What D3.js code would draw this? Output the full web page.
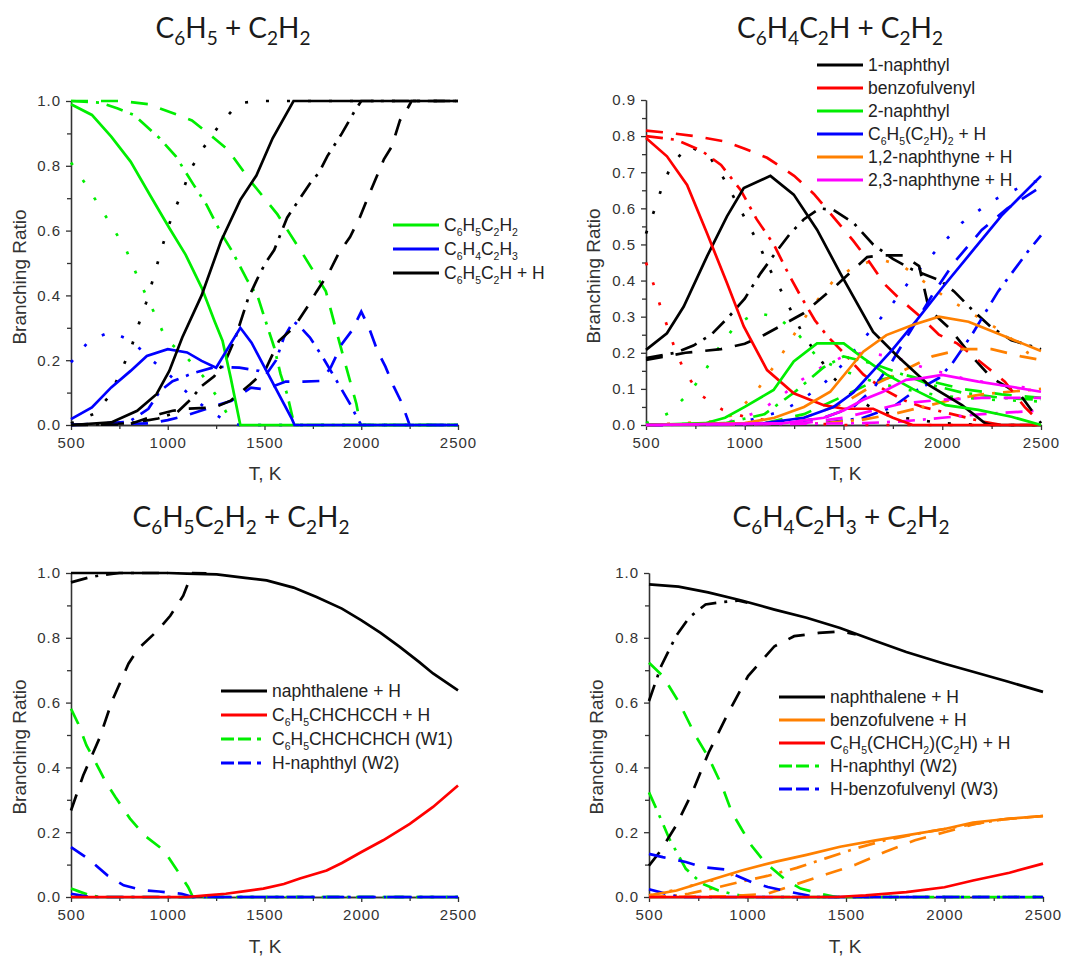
<!DOCTYPE html>
<html>
<head>
<meta charset="utf-8">
<script src="https://cdn.jsdelivr.net/npm/d3@7"></script>
<style>
  body { margin: 0; background: #fff; }
  svg { display: block; }
  .axis path, .axis line { stroke: #333; stroke-width: 1.3; }
  .axis text { font-family: "Liberation Sans", Arial, sans-serif; font-size: 15px; fill: #333; letter-spacing: 1px; }
  .axis-title { font-family: "Liberation Sans", Arial, sans-serif; font-size: 19px; fill: #333; }
  .panel-title { font-family: Lato, "Open Sans", sans-serif; font-size: 28px; fill: #1a1a1a; }
  .legend text { font-family: "Liberation Sans", Arial, sans-serif; font-size: 17.5px; fill: #222; }
</style>
</head>
<body>
<svg id="chart" width="1071" height="956"></svg>
<script>
// ---- data: [T (K), branching ratio] per pressure set (p1..p4) ----

// C6H5 + C2H2
const aC6H5C2H2 = {
  p1: [[500,.99],[608,.957],[708,.89],[808,.813],[908,.71],[1008,.608],[1092,.526],[1175,.424],[1242,.32],[1283,.26],[1325,.147],[1375,0],[2500,0]],
  p2: [[500,.81],[575,.744],[650,.673],[720,.605],[787,.538],[837,.467],[888,.40],[942,.331],[992,.263],[1092,.213],[1183,.15],[1263,.08],[1340,0],[2500,0]],
  p3: [[500,1.0],[650,.995],[742,.977],[825,.957],[958,.885],[1042,.829],[1133,.742],[1200,.68],[1275,.593],[1333,.536],[1408,.45],[1467,.393],[1517,.30],[1550,.24],[1583,.157],[1617,.095],[1650,.01],[1660,0],[2500,0]],
  p4: [[500,1.0],[760,1.0],[900,.99],[1060,.955],[1125,.94],[1240,.885],[1310,.85],[1425,.755],[1567,.65],[1700,.526],[1817,.413],[1867,.30],[1917,.19],[1975,.065],[1995,0],[2500,0]]
};
const aC6H4C2H3 = {
  p1: [[500,.018],[608,.054],[708,.116],[808,.167],[892,.213],[1000,.234],[1100,.224],[1175,.198],[1250,.177],[1375,.30],[1433,.254],[1642,.018],[1655,0],[2500,0]],
  p2: [[500,.193],[592,.259],[705,.288],[813,.259],[922,.198],[1000,.16],[1100,.10],[1200,.05],[1280,.02],[1370,0],[2500,0]],
  p3: [[500,0],[800,.01],[900,.05],[960,.105],[1025,.135],[1130,.16],[1250,.18],[1370,.177],[1470,.167],[1510,.157],[1560,.20],[1600,.27],[1650,.32],[1680,.305],[1735,.27],[1800,.21],[1883,.126],[1942,.065],[1985,.015],[2000,0],[2500,0]],
  p4: [[500,0],[900,.005],[1000,.015],[1100,.03],[1250,.06],[1330,.075],[1430,.115],[1500,.11],[1610,.134],[1700,.134],[1792,.136],[1842,.177],[1900,.25],[1950,.29],[2000,.35],[2040,.30],[2083,.23],[2125,.18],[2167,.12],[2208,.07],[2250,0],[2500,0]]
};
const aC6H5C2H = {
  p1: [[500,0],[708,.008],[842,.044],[942,.095],[1008,.167],[1075,.27],[1175,.40],[1275,.567],[1375,.695],[1458,.77],[1542,.885],[1650,1.0],[2500,1.0]],
  p2: [[500,.005],[617,.034],[700,.09],[763,.172],[813,.242],[850,.311],[888,.377],[922,.446],[955,.516],[988,.583],[1025,.651],[1075,.718],[1117,.788],[1183,.854],[1267,.926],[1367,.993],[1467,1.0],[2500,1.0]],
  p3: [[500,0],[800,.005],[950,.02],[1050,.04],[1120,.08],[1175,.12],[1240,.15],[1300,.20],[1350,.27],[1415,.39],[1470,.46],[1505,.50],[1550,.54],[1617,.64],[1667,.685],[1740,.75],[1783,.78],[1825,.83],[1900,.90],[1967,.97],[2000,1.0],[2500,1.0]],
  p4: [[500,0],[800,.002],[960,.034],[1025,.044],[1100,.05],[1242,.054],[1325,.075],[1425,.125],[1500,.165],[1575,.26],[1650,.30],[1717,.36],[1767,.41],[1833,.47],[1883,.53],[1942,.58],[1992,.64],[2033,.70],[2075,.76],[2117,.82],[2158,.86],[2200,.94],[2242,.98],[2260,1.0],[2500,1.0]]
};

// C6H4C2H + C2H2
const bNaphthyl1 = {
  p1: [[500,.208],[606,.254],[691,.328],[809,.467],[910,.578],[995,.656],[1130,.69],[1248,.638],[1366,.541],[1484,.42],[1650,.258],[1767,.194],[1933,.11],[2100,.055],[2217,.005],[2250,0],[2500,0]],
  p2: [[500,.53],[543,.596],[580,.657],[627,.718],[713,.774],[822,.743],[893,.683],[955,.62],[1013,.56],[1072,.50],[1122,.436],[1180,.376],[1235,.316],[1292,.254],[1372,.19],[1450,.13],[1550,.08],[1650,.045],[1800,.02],[2000,.005],[2200,0],[2500,0]],
  p3: [[500,.185],[650,.20],[740,.22],[830,.25],[920,.30],[1000,.35],[1080,.42],[1160,.48],[1230,.53],[1300,.57],[1380,.60],[1450,.595],[1550,.56],[1650,.50],[1750,.46],[1850,.43],[1990,.40],[2060,.37],[2150,.32],[2250,.27],[2350,.235],[2430,.222],[2500,.21]],
  p4: [[500,.18],[700,.20],[880,.21],[1000,.225],[1100,.25],[1300,.31],[1470,.39],[1620,.465],[1690,.47],[1800,.47],[1883,.44],[1933,.32],[2033,.27],[2150,.19],[2250,.13],[2330,.105],[2400,.08],[2500,.005]]
};
const bBenzofulvenyl = {
  p1: [[500,.795],[606,.744],[708,.665],[809,.531],[910,.393],[995,.273],[1113,.152],[1248,.088],[1400,.055],[1500,.045],[1650,.045],[1750,.02],[1850,0],[2500,0]],
  p2: [[500,.45],[538,.39],[572,.33],[647,.21],[697,.146],[777,.083],[888,.042],[997,.023],[1150,.01],[1300,.005],[1500,0],[2500,0]],
  p3: [[500,.80],[650,.79],[780,.76],[880,.72],[980,.65],[1060,.57],[1147,.50],[1220,.42],[1280,.36],[1355,.29],[1420,.245],[1500,.20],[1600,.14],[1700,.10],[1800,.07],[1900,.05],[2050,.03],[2200,.01],[2300,0],[2500,0]],
  p4: [[500,.815],[600,.81],[750,.80],[900,.785],[1000,.765],[1113,.74],[1250,.69],[1350,.64],[1450,.575],[1550,.51],[1633,.45],[1708,.39],[1783,.35],[1900,.295],[1983,.25],[2075,.226],[2150,.194],[2233,.157],[2317,.12],[2417,.05],[2500,.005]]
};
const bNaphthyl2 = {
  p1: [[500,0],[800,.005],[900,.02],[1000,.05],[1146,.097],[1248,.176],[1366,.226],[1501,.226],[1600,.185],[1717,.14],[1850,.10],[2017,.055],[2183,.042],[2350,.023],[2500,0]],
  p2: [[500,.005],[613,.032],[722,.09],[797,.148],[863,.21],[955,.277],[1055,.31],[1163,.30],[1272,.25],[1372,.185],[1500,.15],[1650,.12],[1800,.10],[2000,.08],[2250,.07],[2500,.065]],
  p3: [[500,0],[900,.005],[1100,.03],[1250,.09],[1400,.16],[1500,.19],[1650,.17],[1800,.14],[1950,.11],[2100,.09],[2300,.075],[2500,.07]],
  p4: [[500,0],[1100,.005],[1300,.03],[1500,.08],[1650,.12],[1800,.14],[1950,.12],[2100,.10],[2300,.085],[2500,.075]]
};
const bC6H5C2H2 = {
  p1: [[500,0],[1100,.005],[1300,.02],[1450,.05],[1550,.09],[1650,.15],[1750,.21],[1870,.29],[2000,.38],[2150,.48],[2300,.58],[2500,.69]],
  p2: [[500,0],[1000,.01],[1180,.037],[1280,.066],[1397,.113],[1500,.17],[1620,.25],[1740,.33],[1850,.41],[1980,.49],[2100,.56],[2250,.62],[2400,.66],[2500,.68]],
  p3: [[500,0],[1400,.005],[1600,.02],[1750,.05],[1850,.09],[1983,.13],[2050,.17],[2150,.25],[2283,.37],[2433,.48],[2500,.525]],
  p4: [[500,0],[1200,.005],[1400,.02],[1550,.05],[1650,.10],[1750,.18],[1850,.27],[1950,.36],[2060,.45],[2200,.54],[2330,.60],[2500,.66]]
};
const bNaphthyne12 = {
  p1: [[500,0],[1000,.005],[1150,.02],[1300,.05],[1433,.092],[1600,.203],[1717,.249],[1850,.277],[1983,.30],[2133,.286],[2300,.249],[2500,.205]],
  p2: [[500,0],[850,.01],[950,.03],[1055,.09],[1170,.18],[1280,.277],[1350,.334],[1450,.40],[1560,.44],[1680,.46],[1800,.44],[1900,.40],[2000,.36],[2117,.32],[2317,.254],[2433,.20],[2500,.18]],
  p3: [[500,0],[1400,.005],[1600,.015],[1750,.03],[1900,.05],[2050,.07],[2200,.085],[2500,.10]],
  p4: [[500,0],[1100,.005],[1300,.02],[1500,.06],[1650,.11],[1800,.15],[1950,.19],[2100,.21],[2250,.21],[2400,.19],[2500,.18]]
};
const bNaphthyne23 = {
  p1: [[500,0],[1200,.005],[1400,.02],[1500,.04],[1600,.07],[1700,.092],[1817,.125],[1900,.13],[2000,.139],[2183,.12],[2350,.106],[2500,.092]],
  p2: [[500,0],[900,.005],[1072,.037],[1180,.078],[1288,.125],[1388,.16],[1500,.19],[1600,.20],[1750,.19],[1900,.16],[2100,.13],[2300,.11],[2500,.10]],
  p3: [[500,0],[1600,.005],[1800,.01],[2000,.02],[2200,.03],[2500,.04]],
  p4: [[500,0],[1300,.005],[1500,.02],[1650,.04],[1800,.06],[2000,.07],[2200,.075],[2500,.075]]
};

// C6H5C2H2 + C2H2
const cNaphthalene = {
  p1: [[500,1.0],[1000,1.0],[1100,.998],[1253,.996],[1400,.985],[1511,.977],[1650,.955],[1769,.926],[1900,.89],[2001,.854],[2100,.815],[2199,.772],[2300,.725],[2371,.69],[2500,.638]],
  p3: [[500,.971],[597,.987],[663,.994],[750,1.0],[1000,1.0]],
  p4: [[500,.267],[563,.375],[647,.49],[713,.606],[797,.72],[847,.766],[947,.822],[1013,.868],[1080,.93],[1113,.98],[1130,1.0],[1200,.999]]
};
const cC6H5CHCHCCH = {
  p1: [[500,0],[1100,0],[1200,.005],[1300,.01],[1400,.018],[1494,.026],[1600,.04],[1683,.057],[1821,.082],[1900,.105],[2001,.139],[2113,.175],[2251,.226],[2371,.278],[2500,.344]]
};
const cW1 = {
  p3: [[500,.026],[597,.005],[650,0],[2500,0]],
  p4: [[500,.581],[538,.534],[580,.468],[622,.421],[680,.355],[730,.308],[805,.242],[880,.19],[980,.144],[1038,.092],[1105,.031],[1130,0],[2500,0]]
};
const cW2 = {
  p3: [[500,.01],[600,0],[2500,0]],
  p4: [[500,.154],[588,.118],[688,.067],[772,.036],[872,.021],[955,.017],[1072,.01],[1130,0],[2500,0]]
};

// C6H4C2H3 + C2H2
const dNaphthalene = {
  p1: [[500,.965],[650,.958],[800,.94],[970,.915],[1137,.887],[1300,.862],[1470,.83],[1650,.79],[1806,.756],[2000,.72],[2145,.695],[2320,.665],[2500,.633]],
  p3: [[500,.605],[562,.713],[637,.805],[703,.862],[787,.903],[870,.91],[950,.915],[1000,.908]],
  p4: [[500,.097],[553,.138],[637,.22],[720,.323],[803,.446],[903,.569],[1003,.682],[1137,.774],[1237,.805],[1362,.815],[1480,.82],[1550,.81]]
};
const dBenzofulvene = {
  p1: [[500,.005],[640,.02],[800,.05],[970,.082],[1150,.11],[1300,.13],[1470,.155],[1650,.175],[1806,.19],[2000,.21],[2145,.23],[2300,.24],[2500,.25]],
  p2: [[500,.005],[620,.02],[750,.04],[880,.06],[1000,.085]],
  p3: [[500,0],[600,.002],[700,.01],[850,.03],[950,.045],[1100,.065],[1250,.09],[1400,.12],[1550,.15],[1700,.175],[1900,.20],[2100,.22],[2300,.24],[2500,.25]],
  p4: [[500,0],[900,.002],[1100,.01],[1250,.04],[1400,.07],[1550,.10],[1700,.14],[1850,.175],[2000,.20],[2150,.225],[2300,.24],[2500,.25]]
};
const dC6H5Vinyl = {
  p1: [[500,0],[1450,0],[1600,.005],[1806,.015],[2000,.03],[2145,.051],[2330,.075],[2500,.103]]
};
const dW2 = {
  p3: [[500,.323],[545,.262],[603,.18],[687,.087],[770,.041],[853,.02],[920,.01],[1000,0],[2500,0]],
  p4: [[500,.723],[570,.682],[653,.60],[737,.497],[803,.43],[870,.344],[920,.262],[970,.21],[1020,.159],[1087,.108],[1187,.056],[1270,.026],[1370,.01],[1450,0],[2500,0]]
};
const dW3 = {
  p3: [[500,.024],[587,.01],[650,0],[2500,0]],
  p4: [[500,.133],[570,.123],[687,.108],[770,.092],[887,.085],[920,.072],[1020,.046],[1103,.031],[1220,.015],[1350,0],[2500,0]]
};

const xTicksMajor = [500, 1000, 1500, 2000, 2500];
const xTicksMinor = [750, 1250, 1750, 2250];

// ---- styles ----
const dashBySet = { p1: null, p2: "3,18", p3: "17,8,3,8", p4: "17,13" };
const drawOrder = ["p2", "p3", "p4", "p1"];
const legendDashDot = "13,4,13,6,4,6";

const panels = [
  {
    title: "C_6H_5 + C_2H_2", titleX: 233, titleY: 38,
    x0: 71, x1: 458, yTop: 101, yBot: 425, yMax: 1.0, yStep: 0.2, yMinorStep: 0.1,
    yLabelX: 19, yLabelY: 277, xLabelX: 265, xLabelY: 480,
    legend: { x: 393, y: 225, dy: 24 },
    series: [
      { name: "C_6H_5C_2H_2", color: "#00ee00", data: aC6H5C2H2 },
      { name: "C_6H_4C_2H_3", color: "#0000ff", data: aC6H4C2H3 },
      { name: "C_6H_5C_2H + H", color: "#000000", data: aC6H5C2H }
    ]
  },
  {
    title: "C_6H_4C_2H + C_2H_2", titleX: 840, titleY: 38,
    x0: 646, x1: 1041, yTop: 100, yBot: 425, yMax: 0.9, yStep: 0.1, yMinorStep: 0.05,
    yLabelX: 593, yLabelY: 276, xLabelX: 845, xLabelY: 480,
    legend: { x: 817, y: 65, dy: 23 },
    series: [
      { name: "1-naphthyl", color: "#000000", data: bNaphthyl1 },
      { name: "benzofulvenyl", color: "#ff0000", data: bBenzofulvenyl },
      { name: "2-naphthyl", color: "#00ee00", data: bNaphthyl2 },
      { name: "C_6H_5(C_2H)_2 + H", color: "#0000ff", data: bC6H5C2H2 },
      { name: "1,2-naphthyne + H", color: "#ff8000", data: bNaphthyne12 },
      { name: "2,3-naphthyne + H", color: "#ff00ff", data: bNaphthyne23 }
    ]
  },
  {
    title: "C_6H_5C_2H_2 + C_2H_2", titleX: 241, titleY: 527,
    x0: 71, x1: 458, yTop: 573, yBot: 897, yMax: 1.0, yStep: 0.2, yMinorStep: 0.1,
    yLabelX: 19, yLabelY: 747, xLabelX: 265, xLabelY: 953,
    legend: { x: 221, y: 691, dy: 24 },
    series: [
      { name: "naphthalene + H", color: "#000000", data: cNaphthalene },
      { name: "C_6H_5CHCHCCH + H", color: "#ff0000", data: cC6H5CHCHCCH },
      { name: "C_6H_5CHCHCHCH (W1)", color: "#00ee00", data: cW1, legendDash: legendDashDot },
      { name: "H-naphthyl (W2)", color: "#0000ff", data: cW2, legendDash: legendDashDot }
    ]
  },
  {
    title: "C_6H_4C_2H_3 + C_2H_2", titleX: 841, titleY: 527,
    x0: 649, x1: 1043, yTop: 573, yBot: 897, yMax: 1.0, yStep: 0.2, yMinorStep: 0.1,
    yLabelX: 596, yLabelY: 747, xLabelX: 845, xLabelY: 953,
    legend: { x: 779, y: 697, dy: 23 },
    series: [
      { name: "naphthalene + H", color: "#000000", data: dNaphthalene },
      { name: "benzofulvene + H", color: "#ff8000", data: dBenzofulvene },
      { name: "C_6H_5(CHCH_2)(C_2H) + H", color: "#ff0000", data: dC6H5Vinyl },
      { name: "H-naphthyl (W2)", color: "#00ee00", data: dW2, legendDash: legendDashDot },
      { name: "H-benzofulvenyl (W3)", color: "#0000ff", data: dW3, legendDash: legendDashDot }
    ]
  }
];

const svg = d3.select("#chart");

// writes a formula like "C_6H_5" with one-character subscripts
function formula(textSel, str, subSize, subShift) {
  const parts = str.split(/(_.)/).filter(s => s.length);
  let lowered = false;
  parts.forEach(p => {
    if (p[0] === "_") {
      textSel.append("tspan").attr("font-size", subSize).attr("dy", lowered ? 0 : subShift).text(p[1]);
      lowered = true;
    } else {
      textSel.append("tspan").attr("dy", lowered ? -subShift : 0).text(p);
      lowered = false;
    }
  });
}

function range(start, stop, step) {
  const out = [];
  for (let v = start; v <= stop + 1e-9; v += step) out.push(+v.toFixed(3));
  return out;
}

panels.forEach(p => {
  const g = svg.append("g");
  const x = d3.scaleLinear().domain([500, 2500]).range([p.x0, p.x1]);
  const y = d3.scaleLinear().domain([0, p.yMax]).range([p.yBot, p.yTop]);

  const yMajor = range(0, p.yMax, p.yStep);
  const yMinor = range(0, p.yMax, p.yMinorStep).filter(v => !yMajor.some(m => Math.abs(m - v) < 1e-6));

  // minor ticks
  g.append("g").attr("class", "axis").attr("transform", `translate(0,${p.yBot})`)
    .call(d3.axisBottom(x).tickValues(xTicksMinor).tickSize(4).tickSizeOuter(0).tickFormat(""));
  g.append("g").attr("class", "axis").attr("transform", `translate(${p.x0},0)`)
    .call(d3.axisLeft(y).tickValues(yMinor).tickSize(4).tickSizeOuter(0).tickFormat(""));

  // major ticks with labels
  g.append("g").attr("class", "axis").attr("transform", `translate(0,${p.yBot})`)
    .call(d3.axisBottom(x).tickValues(xTicksMajor).tickSize(5).tickSizeOuter(0).tickPadding(7).tickFormat(d3.format("d")));
  g.append("g").attr("class", "axis").attr("transform", `translate(${p.x0},0)`)
    .call(d3.axisLeft(y).tickValues(yMajor).tickSize(5).tickSizeOuter(0).tickPadding(5).tickFormat(d3.format(".1f")));

  // axis titles
  g.append("text").attr("class", "axis-title")
    .attr("transform", `translate(${p.yLabelX},${p.yLabelY}) rotate(-90)`)
    .attr("text-anchor", "middle").attr("dominant-baseline", "central")
    .text("Branching Ratio");
  g.append("text").attr("class", "axis-title")
    .attr("x", p.xLabelX).attr("y", p.xLabelY).attr("text-anchor", "middle")
    .text("T, K");

  // panel title
  const t = g.append("text").attr("class", "panel-title")
    .attr("x", p.titleX).attr("y", p.titleY).attr("text-anchor", "middle");
  formula(t, p.title, 19, 7);

  // curves
  const line = d3.line().x(d => x(d[0])).y(d => y(d[1]));
  const lines = g.append("g").attr("fill", "none").attr("stroke-width", 2.7);
  drawOrder.forEach(set => {
    p.series.forEach(s => {
      if (!s.data[set]) return;
      lines.append("path")
        .attr("d", line(s.data[set]))
        .attr("stroke", s.color)
        .attr("stroke-dasharray", dashBySet[set]);
    });
  });

  // legend
  const lg = g.append("g").attr("class", "legend");
  p.series.forEach((s, i) => {
    const ly = p.legend.y + i * p.legend.dy;
    lg.append("line")
      .attr("x1", p.legend.x).attr("x2", p.legend.x + 46)
      .attr("y1", ly).attr("y2", ly)
      .attr("stroke", s.color).attr("stroke-width", 3)
      .attr("stroke-dasharray", s.legendDash || null);
    const txt = lg.append("text")
      .attr("x", p.legend.x + 51).attr("y", ly + 6);
    formula(txt, s.name, 10.5, 5);
  });
});
</script>
</body>
</html>
